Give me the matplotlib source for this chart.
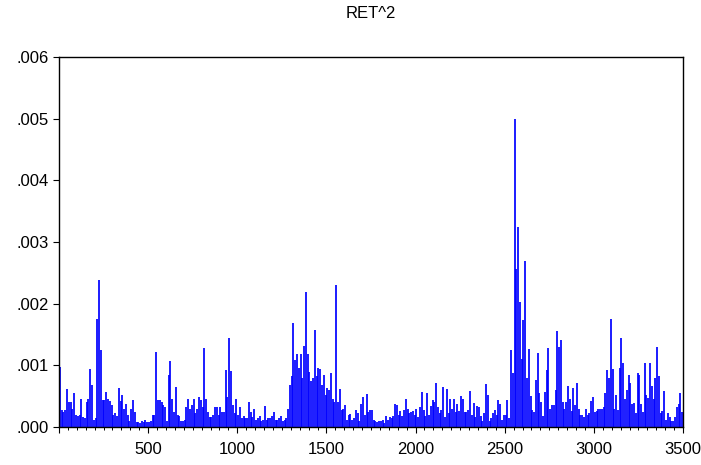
import matplotlib
matplotlib.use("Agg")
import matplotlib.pyplot as plt
from matplotlib.ticker import MultipleLocator, FuncFormatter

# RET^2, lu sur le graphique : maximum local par tranche de 10 observations
# (unités de 1e-4), tranche i = observations 10*i .. 10*i+9
BIN = 10
ret2_e4 = [
    9.7, 2.8, 2.5, 2.8, 6.1, 4.1, 4.1, 3.0, 5.5, 2.0,          # 0-99
    1.8, 2.0, 4.5, 1.7, 1.5, 4.0, 4.5, 9.4, 6.8, 1.2,          # 100-199
    1.5, 17.5, 23.8, 12.5, 4.4, 4.4, 5.7, 4.6, 4.2, 3.5,       # 200-299
    2.0, 2.2, 1.8, 6.3, 4.2, 5.2, 3.0, 3.8, 2.0, 1.0,          # 300-399
    3.0, 4.3, 2.5, 0.8, 0.8, 0.7, 0.9, 0.8, 1.2, 0.8,          # 400-499
    0.8, 0.9, 2.0, 2.0, 12.2, 4.4, 4.4, 4.0, 3.6, 3.2,         # 500-599
    1.0, 8.4, 10.7, 4.6, 2.5, 6.5, 2.0, 1.8, 1.0, 1.0,         # 600-699
    1.1, 3.3, 4.5, 3.0, 3.6, 4.5, 2.2, 3.0, 4.9, 4.3,          # 700-799
    3.3, 12.8, 4.6, 2.5, 1.7, 1.7, 2.0, 3.3, 3.3, 2.0,         # 800-899
    3.3, 2.5, 2.5, 9.2, 4.9, 14.5, 9.1, 3.6, 2.2, 4.5,         # 900-999
    2.0, 3.2, 1.5, 1.8, 1.4, 1.4, 4.0, 2.5, 1.6, 3.0,          # 1000-1099
    1.2, 1.5, 1.8, 0.9, 1.2, 3.4, 1.2, 1.4, 1.5, 1.8,          # 1100-1199
    2.5, 1.1, 1.2, 1.4, 1.8, 1.0, 1.1, 1.4, 2.9, 6.8,          # 1200-1299
    8.3, 16.8, 10.8, 11.8, 9.5, 11.9, 8.0, 13.1, 21.9, 11.8,   # 1300-1399
    9.0, 7.4, 8.0, 15.8, 8.2, 9.6, 9.4, 6.8, 8.5, 5.2,         # 1400-1499
    6.3, 6.0, 8.8, 4.5, 4.1, 23.0, 4.1, 6.1, 2.8, 3.0,         # 1500-1599
    3.6, 1.1, 2.0, 2.1, 1.2, 1.5, 2.8, 2.3, 1.0, 3.8,          # 1600-1699
    4.9, 2.0, 5.4, 2.5, 2.8, 2.8, 1.1, 0.9, 0.8, 0.9,          # 1700-1799
    0.9, 1.1, 0.6, 1.8, 1.2, 1.6, 1.4, 1.8, 3.8, 3.6,          # 1800-1899
    2.0, 2.6, 1.8, 2.8, 4.5, 2.9, 2.2, 2.5, 2.6, 2.0,          # 1900-1999
    2.9, 1.7, 3.2, 5.6, 2.8, 1.8, 5.5, 2.0, 3.4, 4.3,          # 2000-2099
    4.1, 7.1, 3.3, 2.2, 2.8, 6.5, 1.6, 6.1, 2.2, 4.6,          # 2100-2199
    3.0, 4.6, 2.5, 3.7, 2.6, 5.0, 4.6, 2.5, 2.5, 2.8,          # 2200-2299
    5.8, 2.0, 3.9, 1.6, 3.4, 3.3, 1.8, 0.9, 2.2, 6.9,          # 2300-2399
    5.2, 0.9, 1.4, 2.3, 2.8, 2.0, 4.4, 3.8, 1.2, 1.9,          # 2400-2499
    2.0, 4.4, 1.4, 12.5, 8.7, 49.9, 25.7, 32.4, 20.3, 11.1,    # 2500-2599
    17.4, 27.0, 7.9, 12.6, 5.0, 2.8, 2.5, 7.7, 12.0, 5.5,      # 2600-2699
    4.0, 1.8, 5.7, 9.2, 12.8, 3.0, 3.6, 3.6, 6.0, 15.6,        # 2700-2799
    12.9, 14.1, 4.1, 3.0, 4.1, 6.6, 4.5, 2.6, 6.3, 3.6,        # 2800-2899
    7.2, 3.0, 1.9, 1.9, 1.6, 2.9, 2.0, 2.3, 4.2, 4.8,          # 2900-2999
    2.5, 2.6, 3.0, 3.0, 3.0, 3.3, 5.5, 9.2, 7.9, 17.5,         # 3000-3099
    9.4, 3.0, 5.2, 2.8, 9.5, 14.5, 10.3, 4.6, 6.0, 8.4,        # 3100-3199
    7.2, 3.8, 3.9, 2.2, 8.7, 8.4, 3.8, 2.5, 10.4, 5.2,         # 3200-3299
    4.7, 10.4, 6.6, 4.5, 7.9, 12.9, 8.2, 2.2, 2.6, 5.8,        # 3300-3399
    1.2, 2.3, 1.6, 1.0, 0.9, 1.6, 3.2, 3.8, 5.5, 2.5,          # 3400-3499
]
obs = [BIN * i + BIN / 2 for i in range(len(ret2_e4))]
ret2 = [v * 1e-4 for v in ret2_e4]

TITRE = "RET^2"
BLEU = "#0000ff"

plt.rcParams["font.family"] = ["Liberation Sans", "DejaVu Sans"]

fig = plt.figure(figsize=(7.01, 4.65), dpi=100)
ax = fig.add_axes([59 / 701, 1 - 427 / 465, 624 / 701, 370 / 465])

ax.vlines(obs, 0, ret2, colors=BLEU, linewidth=1.25)

ax.set_xlim(0, 3500)
ax.set_ylim(0, 0.006)

ax.xaxis.set_major_locator(MultipleLocator(500))
ax.xaxis.set_minor_locator(MultipleLocator(50))
ax.yaxis.set_major_locator(MultipleLocator(0.001))
ax.xaxis.set_major_formatter(FuncFormatter(lambda v, p: "" if v == 0 else f"{v:.0f}"))
ax.yaxis.set_major_formatter(FuncFormatter(lambda v, p: f"{v:.3f}".lstrip("0")))

ax.tick_params(axis="both", which="major", direction="out", length=4.5,
               width=0.8, labelsize=12, color="black", pad=3)
ax.tick_params(axis="x", which="minor", direction="out", length=2.5, width=0.7)
ax.tick_params(axis="x", which="major", pad=6)

for s in ax.spines.values():
    s.set_linewidth(1.0)
    s.set_color("black")

fig.text(371 / 701, 1 - 13 / 465, TITRE, ha="center", va="center", fontsize=12)

fig.savefig("out.png", dpi=100)
